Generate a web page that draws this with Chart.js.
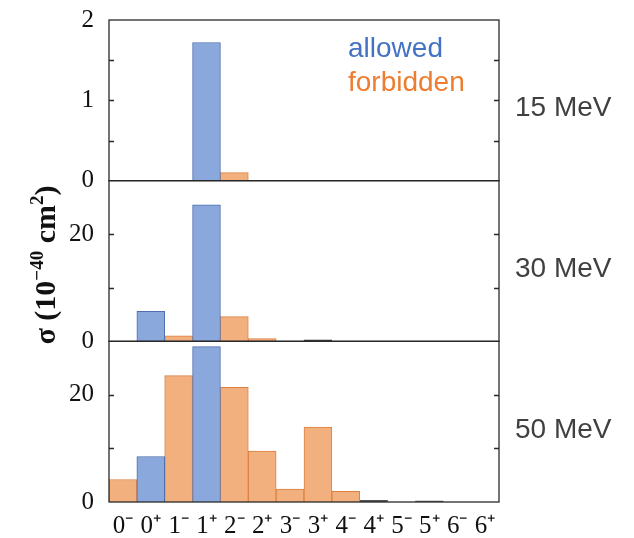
<!DOCTYPE html>
<html>
<head>
<meta charset="utf-8">
<script src="https://cdn.jsdelivr.net/npm/chart.js@4.4.1/dist/chart.umd.min.js"></script>
<style>
  html, body { margin: 0; padding: 0; background: #fff; }
  #wrap { position: relative; width: 634px; height: 538px; }
</style>
</head>
<body>
<div id="wrap"><canvas id="c" width="634" height="538"></canvas></div>
<script>
// Multipole (J^pi) categories
const categories = ['0\u207B','0\u207A','1\u207B','1\u207A','2\u207B','2\u207A','3\u207B','3\u207A','4\u207B','4\u207A','5\u207B','5\u207A','6\u207B','6\u207A'];
const energyLabels = ['15 MeV', '30 MeV', '50 MeV'];

// Cross sections, 10^-40 cm^2
const allowed15   = [null, null, null, 1.72, null, null, null, null, null, null, null, null, null, null];
const forbidden15 = [null, null, null, null, 0.1, null, null, null, null, null, null, null, null, null];

const allowed30   = [null, 5.6, null, 25.5, null, null, null, null, null, null, null, null, null, null];
const forbidden30 = [null, null, 1.05, null, 4.6, 0.5, null, null, null, null, null, null, null, null];
const other30     = [null, null, null, null, null, null, null, 0.3, null, null, null, null, null, null];

const allowed50   = [null, 8.5, null, 29.0, null, null, null, null, null, null, null, null, null, null];
const forbidden50 = [4.2, null, 23.6, null, 21.4, 9.5, 2.4, 14.0, 2.0, null, null, null, null, null];
const other50     = [null, null, null, null, null, null, null, null, null, 0.3, null, 0.2, null, null];

// Axis ranges and tick steps per panel
const panelMax   = [2, 30, 30];
const majorStep  = [1, 10, 10];
const minorStep  = [0.5, 10, 10];
const shownTicks = [[0, 1, 2], [0, 20], [0, 20]];

const BLUE_FILL = '#8aa8dc', BLUE_LINE = '#4d6fae';
const ORANGE_FILL = '#f3b07f', ORANGE_LINE = '#dc8140';
const DARK = '#333333';
const SERIF = '"Liberation Serif", "Times New Roman", serif';
const SANS = '"Liberation Sans", Arial, sans-serif';

const scaleIds = ['y15', 'y30', 'y50'];

function ds(label, data, axis, fill, line) {
  return { label, data, yAxisID: axis, backgroundColor: fill, borderColor: line, borderWidth: 1 };
}

const datasets = [
  ds('allowed', allowed15, 'y15', BLUE_FILL, BLUE_LINE),
  ds('forbidden', forbidden15, 'y15', ORANGE_FILL, ORANGE_LINE),
  ds('allowed', allowed30, 'y30', BLUE_FILL, BLUE_LINE),
  ds('forbidden', forbidden30, 'y30', ORANGE_FILL, ORANGE_LINE),
  ds('other', other30, 'y30', DARK, DARK),
  ds('allowed', allowed50, 'y50', BLUE_FILL, BLUE_LINE),
  ds('forbidden', forbidden50, 'y50', ORANGE_FILL, ORANGE_LINE),
  ds('other', other50, 'y50', '#555555', '#555555'),
];

function yScale(i) {
  return {
    type: 'linear',
    position: 'left',
    stack: 'panels',
    stackWeight: 1,
    weight: 3 - i,
    min: 0,
    max: panelMax[i],
    grid: { display: false, drawTicks: false },
    border: { display: false },
    ticks: {
      stepSize: majorStep[i],
      padding: 15,
      color: '#111',
      font: { family: SERIF, size: 25 },
      callback: v => shownTicks[i].includes(v) ? String(v) : ''
    },
    afterFit(s) { s.width = 109; s.paddingTop = 0; s.paddingBottom = 0; }
  };
}

// Frame, inward ticks, panel labels, legend text and axis title
const decorations = {
  id: 'decorations',
  afterDatasetsDraw(chart) {
    const ctx = chart.ctx;
    const area = chart.chartArea;
    ctx.save();
    ctx.strokeStyle = '#2a2a2a';
    ctx.lineWidth = 1.3;
    scaleIds.forEach((id, i) => {
      const s = chart.scales[id];
      ctx.strokeRect(area.left, s.top, area.right - area.left, s.bottom - s.top);
      ctx.beginPath();
      for (let v = minorStep[i]; v < panelMax[i] - 1e-9; v += minorStep[i]) {
        const y = Math.round(s.getPixelForValue(v)) + 0.5;
        ctx.moveTo(area.left, y); ctx.lineTo(area.left + 5, y);
        ctx.moveTo(area.right, y); ctx.lineTo(area.right - 5, y);
      }
      ctx.stroke();

      ctx.fillStyle = '#404040';
      ctx.font = '28px ' + SANS;
      ctx.textAlign = 'left';
      ctx.textBaseline = 'alphabetic';
      ctx.fillText(energyLabels[i], area.right + 16, (s.top + s.bottom) / 2 + 16);
    });

    // legend text in the top panel
    ctx.font = '28px ' + SANS;
    ctx.fillStyle = '#4472c4';
    ctx.fillText('allowed', area.left + 239, area.top + 37);
    ctx.fillStyle = '#ed7d31';
    ctx.fillText('forbidden', area.left + 239, area.top + 71);

    // rotated y-axis title with superscripts
    const parts = [
      { t: '\u03C3 (10', sup: false },
      { t: '\u221240', sup: true },
      { t: ' cm', sup: false },
      { t: '2', sup: true },
      { t: ')', sup: false }
    ];
    const big = 'bold 30px ' + SERIF, small = 'bold 19px ' + SERIF;
    let total = 0;
    parts.forEach(p => { ctx.font = p.sup ? small : big; p.w = ctx.measureText(p.t).width; total += p.w; });
    ctx.translate(55, 265);
    ctx.rotate(-Math.PI / 2);
    ctx.fillStyle = '#111';
    ctx.textBaseline = 'alphabetic';
    let x = -total / 2;
    parts.forEach(p => {
      ctx.font = p.sup ? small : big;
      ctx.fillText(p.t, x, p.sup ? -12 : 0);
      x += p.w;
    });
    ctx.restore();
  }
};

new Chart(document.getElementById('c'), {
  type: 'bar',
  data: { labels: categories, datasets },
  options: {
    responsive: false,
    animation: false,
    devicePixelRatio: 1,
    layout: { padding: { left: 0, right: 135, top: 20, bottom: 0 } },
    plugins: { legend: { display: false }, tooltip: { enabled: false } },
    datasets: { bar: { grouped: false, barPercentage: 1, categoryPercentage: 1 } },
    scales: {
      x: {
        type: 'category',
        offset: true,
        grid: { display: false, drawTicks: false },
        border: { display: false },
        ticks: {
          autoSkip: false, maxRotation: 0, minRotation: 0,
          padding: 9, color: '#111',
          font: { family: SERIF, size: 25 }
        },
        afterFit(s) { s.height = 36; s.paddingLeft = 0; s.paddingRight = 0; }
      },
      y15: yScale(0),
      y30: yScale(1),
      y50: yScale(2)
    }
  },
  plugins: [decorations]
});
</script>
</body>
</html>
